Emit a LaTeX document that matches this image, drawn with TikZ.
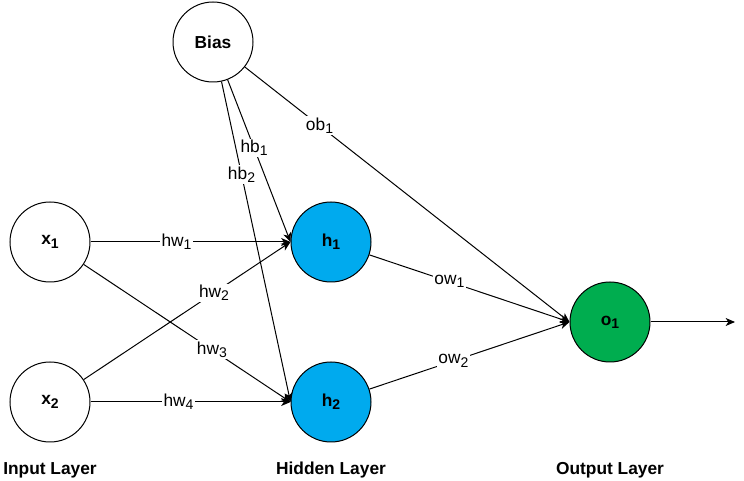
\documentclass[tikz,border=0pt]{standalone}
\usepackage{fontspec}
\setmainfont{Liberation Sans}
\usetikzlibrary{arrows.meta}
\definecolor{hblue}{HTML}{00AAEE}
\definecolor{ogreen}{HTML}{00AD4F}
\newcommand{\sbs}[1]{\raisebox{-0.35ex}{\fontsize{10.5}{12}\selectfont #1}}
\begin{document}
\begin{tikzpicture}[x=0.75pt,y=-0.75pt,
  neuron/.style={circle,draw=black,line width=0.75pt,minimum size=60pt,inner sep=0pt,font=\fontsize{13}{15}\selectfont\bfseries},
  conn/.style={line width=0.75pt,-{Stealth[length=7pt,width=6pt,inset=2pt]}},
  wlabel/.style={fill=white,inner sep=1pt,font=\fontsize{13}{15}\selectfont},
  layer/.style={font=\fontsize{13}{15}\selectfont\bfseries}]
\useasboundingbox (0,0) rectangle (744,481);
\node[neuron] (bias) at (213,42) {Bias};
\node[neuron] (x1) at (50,242) {x\sbs{1}};
\node[neuron] (x2) at (50,402) {x\sbs{2}};
\node[neuron,fill=hblue] (h1) at (331,242) {h\sbs{1}};
\node[neuron,fill=hblue] (h2) at (331,402) {h\sbs{2}};
\node[neuron,fill=ogreen] (o1) at (610,322) {o\sbs{1}};
\coordinate (out) at (735,322);
\node[layer] (lin) at (50,470) {Input Layer};
\node[layer] (lhid) at (331,470) {Hidden Layer};
\node[layer] (lout) at (610,470) {Output Layer};
\draw[conn] (x1) -- node[wlabel,pos=0.43] {hw\sbs{1}} (h1.west);
\draw[conn] (x2) -- node[wlabel,pos=0.44] {hw\sbs{4}} (h2.west);
\draw[conn] (x1) -- node[wlabel,pos=0.62] {hw\sbs{3}} (h2.west);
\draw[conn] (x2) -- node[wlabel,pos=0.63] {hw\sbs{2}} (h1.west);
\draw[conn] (bias) -- node[wlabel,pos=0.42] {hb\sbs{1}} (h1.west);
\draw[conn] (bias) -- node[wlabel,pos=0.29] {hb\sbs{2}} (h2.west);
\draw[conn] (bias) -- node[wlabel,pos=0.23] {ob\sbs{1}} (o1.west);
\draw[conn] (h1) -- node[wlabel,pos=0.40] {ow\sbs{1}} (o1.west);
\draw[conn] (h2) -- node[wlabel,pos=0.42] {ow\sbs{2}} (o1.west);
\draw[conn] (o1) -- (out);
\end{tikzpicture}
\end{document}
